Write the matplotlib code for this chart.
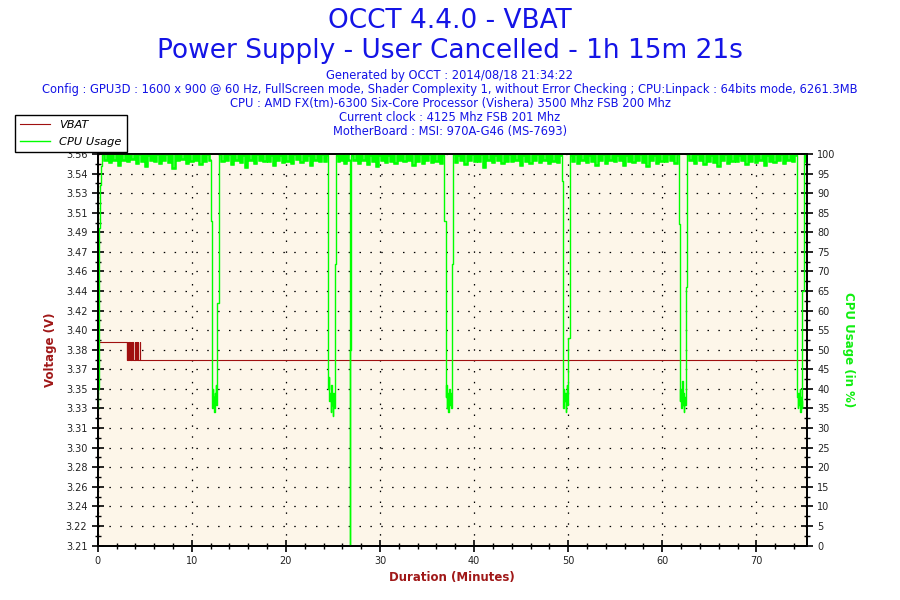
import numpy as np
import matplotlib.pyplot as plt
from matplotlib.ticker import FixedLocator, FixedFormatter, MultipleLocator

# ---- data (time in minutes) ----
vbat_t = [0, 3.08, 3.12, 3.16, 3.20, 3.24, 3.28, 3.32, 3.36, 3.40, 3.44, 3.48,
          3.52, 3.56, 3.60, 3.64, 3.68, 3.72, 3.76, 3.80, 3.94, 3.96, 4.11, 4.13,
          4.29, 4.31, 4.47, 4.49, 75.35]
vbat_v = [3.392, 3.376, 3.392, 3.376, 3.392, 3.376, 3.392, 3.376, 3.392, 3.376,
          3.392, 3.376, 3.392, 3.376, 3.392, 3.376, 3.392, 3.376, 3.392, 3.376,
          3.392, 3.376, 3.392, 3.376, 3.392, 3.376, 3.392, 3.376, 3.376]

# CPU usage: start ramp and the dips, (time, %)
ramp_t = [0, 0.06, 0.17, 0.28, 0.36]
ramp_v = [35, 40, 81, 92, 97]

dip1_t = [12.02, 12.13, 12.18, 12.23, 12.28, 12.33, 12.38, 12.43, 12.48, 12.53, 12.58, 12.63, 12.68]
dip1_v = [83, 39, 35, 40, 36, 38, 34, 39, 37, 41, 36, 38, 62]
dip2_t = [24.50, 24.56, 24.62, 24.68, 24.74, 24.80, 24.86, 24.92, 24.98, 25.04, 25.10, 25.20]
dip2_v = [40, 43, 37, 39, 34, 41, 36, 38, 33, 39, 35, 72]
spike_t = [26.77, 26.85]
spike_v = [0, 50]
dip3_t = [36.84, 36.98, 37.04, 37.10, 37.16, 37.22, 37.28, 37.34, 37.40, 37.46, 37.52, 37.62]
dip3_v = [83, 38, 41, 35, 39, 37, 34, 40, 36, 39, 35, 72]
dip4_t = [49.32, 49.43, 49.49, 49.55, 49.61, 49.67, 49.73, 49.79, 49.85, 49.91, 49.97, 50.03]
dip4_v = [93, 38, 35, 40, 37, 39, 34, 38, 41, 36, 38, 53]
dip5_t = [61.77, 61.87, 61.93, 61.99, 62.05, 62.11, 62.17, 62.23, 62.29, 62.35, 62.41, 62.48]
dip5_v = [82, 37, 40, 35, 38, 42, 36, 39, 34, 38, 36, 66]
dip6_t = [74.30, 74.35, 74.41, 74.47, 74.53, 74.59, 74.65, 74.71, 74.77, 74.83, 74.90]
dip6_v = [83, 38, 35, 39, 36, 40, 34, 38, 37, 35, 65]

# full-load stretches (start, end) and the readings along each
load_spans = [(0.45, 12.02), (12.90, 24.50), (25.32, 26.77), (26.92, 36.84),
              (37.72, 49.32), (50.17, 61.77), (62.62, 74.30), (75.06, 75.35)]
load_1 = [99.9, 98.4, 99.8, 97.9, 99.9, 98.6, 99.9, 97.2, 99.8, 98.5, 99.9, 98.1,
          99.9, 98.7, 99.8, 97.6, 99.9, 98.3, 99.9, 96.9, 99.8, 98.6, 99.9, 98.2,
          99.9, 97.8, 99.8, 98.5, 99.9, 98.0, 99.9, 96.5, 99.8, 98.4, 99.9, 98.7,
          99.9, 97.7, 99.8, 98.3, 99.9, 98.6, 99.9, 97.4, 99.8, 98.2, 99.9, 98.5]
load_2 = [99.9, 98.2, 99.8, 98.6, 99.9, 97.5, 99.8, 98.5, 99.9, 98.0, 99.8, 96.8,
          99.9, 98.4, 99.8, 97.8, 99.9, 98.6, 99.8, 98.1, 99.9, 98.3, 99.8, 97.1,
          99.9, 98.5, 99.8, 97.9, 99.9, 98.2, 99.8, 97.6, 99.9, 98.7, 99.8, 98.0,
          99.9, 98.4, 99.8, 97.3, 99.9, 98.6, 99.8, 98.1, 99.9, 98.3, 99.8]
load_3 = [99.8, 98.1, 99.9, 98.5, 99.8, 97.8, 99.9, 98.4]
load_4 = [99.8, 98.4, 99.9, 97.8, 99.8, 98.6, 99.9, 97.5, 99.8, 98.2, 99.9, 97.0,
          99.8, 98.5, 99.9, 97.9, 99.8, 98.3, 99.9, 97.7, 99.8, 98.6, 99.9, 98.1,
          99.8, 98.4, 99.9, 97.2, 99.8, 98.2, 99.9, 97.8, 99.8, 98.5, 99.9, 98.0,
          99.8, 98.3, 99.9, 97.6, 99.8]
load_5 = [99.9, 97.9, 99.8, 98.5, 99.9, 97.4, 99.8, 98.6, 99.9, 98.1, 99.8, 98.3,
          99.9, 96.7, 99.8, 98.4, 99.9, 98.0, 99.8, 98.6, 99.9, 97.7, 99.8, 98.2,
          99.9, 98.1, 99.8, 98.5, 99.9, 97.1, 99.8, 98.3, 99.9, 97.8, 99.8, 98.6,
          99.9, 98.0, 99.8, 98.4, 99.9, 97.6, 99.8, 98.2, 99.9, 97.9, 99.8]
load_6 = [99.8, 98.2, 99.9, 97.7, 99.8, 98.5, 99.9, 98.0, 99.8, 98.3, 99.9, 97.1,
          99.8, 98.6, 99.9, 97.8, 99.8, 98.4, 99.9, 98.1, 99.8, 98.5, 99.9, 97.3,
          99.8, 98.2, 99.9, 97.9, 99.8, 98.6, 99.9, 98.0, 99.8, 97.0, 99.9, 98.4,
          99.8, 97.8, 99.9, 98.3, 99.8, 98.1, 99.9, 98.5, 99.8, 97.7, 99.9]
load_7 = [99.9, 98.4, 99.8, 97.8, 99.9, 98.6, 99.8, 97.5, 99.9, 98.3, 99.8, 98.0,
          99.9, 96.9, 99.8, 98.5, 99.9, 97.8, 99.8, 98.2, 99.9, 98.1, 99.8, 98.6,
          99.9, 97.4, 99.8, 98.3, 99.9, 98.0, 99.8, 98.5, 99.9, 97.1, 99.8, 98.2,
          99.9, 97.9, 99.8, 98.4, 99.9, 97.7, 99.8, 98.5, 99.9, 98.1, 99.8]
load_8 = [99.8, 98.3, 99.9]
load_vals = [load_1, load_2, load_3, load_4, load_5, load_6, load_7, load_8]
dips = [(dip1_t, dip1_v), (dip2_t, dip2_v), (spike_t, spike_v), (dip3_t, dip3_v),
        (dip4_t, dip4_v), (dip5_t, dip5_v), (dip6_t, dip6_v), ([], [])]

volt_labels = ['3.21', '3.22', '3.24', '3.26', '3.28', '3.30', '3.31', '3.33', '3.35',
               '3.37', '3.38', '3.40', '3.42', '3.44', '3.46', '3.47', '3.49', '3.51',
               '3.53', '3.54', '3.56']
volt_lo, volt_hi = 3.2075, 3.5625
cpu_ticks = list(range(0, 101, 5))

title1 = 'OCCT 4.4.0 - VBAT'
title2 = 'Power Supply - User Cancelled - 1h 15m 21s'
info_lines = [
    'Generated by OCCT : 2014/08/18 21:34:22',
    'Config : GPU3D : 1600 x 900 @ 60 Hz, FullScreen mode, Shader Complexity 1, '
    'without Error Checking ; CPU:Linpack : 64bits mode, 6261.3MB',
    'CPU : AMD FX(tm)-6300 Six-Core Processor (Vishera) 3500 Mhz FSB 200 Mhz',
    'Current clock : 4125 Mhz FSB 201 Mhz',
    'MotherBoard : MSI: 970A-G46 (MS-7693)',
]

# assemble cpu series
cpu_t = list(ramp_t)
cpu_v = list(ramp_v)
load_segs = []
for (s, e), vals, (dt, dv) in zip(load_spans, load_vals, dips):
    tt = list(np.linspace(s, e, len(vals), endpoint=False))
    load_segs.append((tt + [e], vals + [vals[-1]]))
    cpu_t += tt
    cpu_v += vals
    cpu_t += dt
    cpu_v += dv
cpu_t.append(75.35)
cpu_v.append(cpu_v[-1])

RED = '#A01010'
GREEN = '#00FF00'
BLUE = '#1414E6'
TICK_C = '#222222'

fig = plt.figure(figsize=(9, 6), dpi=100)
ax = fig.add_axes([0.1086, 0.0908, 0.7877, 0.6525])
ax.set_facecolor('#FDF6E9')
ax2 = ax.twinx()

ax.plot(vbat_t, vbat_v, color=RED, lw=0.8, drawstyle='steps-post', label='VBAT')
ax2.plot(cpu_t, cpu_v, color=GREEN, lw=1.0, drawstyle='steps-post', label='CPU Usage')
# the dense jitter at full load reads as a solid band
for tt, vv in load_segs:
    ax2.plot(tt, vv, color=GREEN, lw=1.8, drawstyle='steps-post',
             solid_joinstyle='miter', solid_capstyle='butt')

ax.set_xlim(0, 75.35)
ax.set_ylim(volt_lo, volt_hi)
ax2.set_ylim(0, 100)

vt = np.linspace(volt_lo, volt_hi, 21)
ax.yaxis.set_major_locator(FixedLocator(vt))
ax.yaxis.set_major_formatter(FixedFormatter(volt_labels))
ax.yaxis.set_minor_locator(FixedLocator((vt[:-1] + vt[1:]) / 2))
ax2.yaxis.set_major_locator(FixedLocator(cpu_ticks))
ax2.yaxis.set_minor_locator(MultipleLocator(2.5))
ax.xaxis.set_major_locator(MultipleLocator(10))
ax.xaxis.set_minor_locator(MultipleLocator(2))

for a in (ax, ax2):
    a.tick_params(which='major', direction='inout', length=9, width=1.2,
                  labelsize=7, labelcolor=TICK_C, pad=3)
    a.tick_params(which='minor', direction='inout', length=5, width=1)
    for sp in a.spines.values():
        sp.set_linewidth(1.3)

ax.grid(True, which='major', color='black', lw=0.9, ls=(0, (1.2, 7.5)))

ax.set_ylabel('Voltage (V)', color='#A01818', fontweight='bold', fontsize=8.5, labelpad=6)
ax2.set_ylabel('CPU Usage (in %)', color='#11EE11', fontweight='bold', fontsize=8.5,
               rotation=270, labelpad=14)
ax.set_xlabel('Duration (Minutes)', color='#A01818', fontweight='bold', fontsize=8.5,
              labelpad=4)

fig.text(0.5, 0.965, title1, ha='center', va='center', color=BLUE, fontsize=19)
fig.text(0.5, 0.915, title2, ha='center', va='center', color=BLUE, fontsize=19)
for i, line in enumerate(info_lines):
    fig.text(0.5, 0.875 - i * 0.0235, line, ha='center', va='center', color=BLUE,
             fontsize=8.3)

h1, l1 = ax.get_legend_handles_labels()
h2, l2 = ax2.get_legend_handles_labels()
leg = fig.legend(h1 + h2, l1 + l2, loc='upper left', bbox_to_anchor=(0.017, 0.808),
                 borderaxespad=0, fancybox=False, framealpha=1, edgecolor='black',
                 prop={'style': 'italic', 'size': 8.2}, handlelength=2.6,
                 handletextpad=0.8, labelspacing=0.55, borderpad=0.45)
leg.get_frame().set_linewidth(1)

fig.savefig('out.png', dpi=100)
